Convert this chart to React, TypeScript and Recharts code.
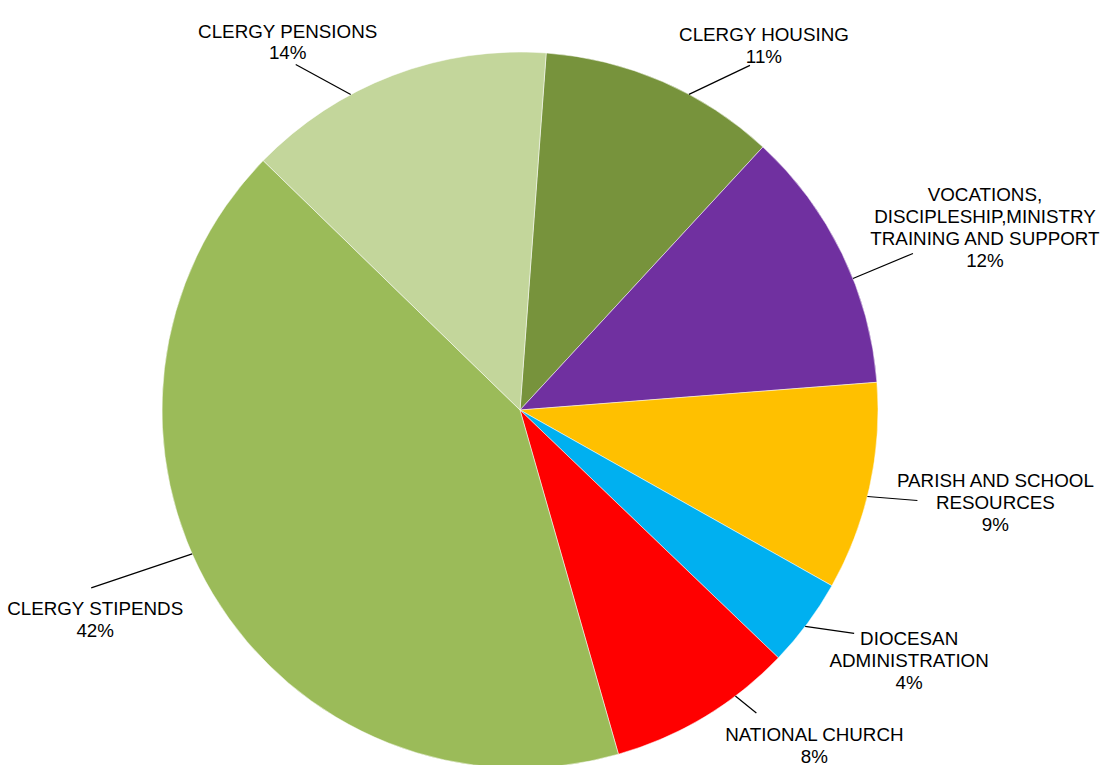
import React from 'react';
import { PieChart, Pie, Cell } from 'recharts';

const CATEGORIES = [
  'CLERGY HOUSING',
  'VOCATIONS,\nDISCIPLESHIP,MINISTRY\nTRAINING AND SUPPORT',
  'PARISH AND SCHOOL\nRESOURCES',
  'DIOCESAN\nADMINISTRATION',
  'NATIONAL CHURCH',
  'CLERGY STIPENDS',
  'CLERGY PENSIONS',
];
const VALUES = [10.7, 11.9, 9.4, 4.0, 8.4, 41.7, 13.9];
const COLORS = ['#77933C', '#7030A0', '#FFC000', '#00B0F0', '#FF0000', '#9BBB59', '#C3D69B'];

// label placement (Excel labels were dragged by hand): anchor angle shift (deg, clockwise),
// leader end offset from anchor, text offset from leader end
const LABEL_LAYOUT = [
  { shift: 4.7, lx: 61, ly: -29, tx: 14, ty: -24 },
  { shift: 4.3, lx: 60, ly: -25, tx: 72, ty: -52 },
  { shift: 1.5, lx: 50, ly: 4, tx: 78, ty: -13 },
  { shift: 0.6, lx: 49, ly: 7, tx: 55, ty: 12 },
  { shift: -5.9, lx: 21, ly: 17, tx: 58, ty: 28 },
  { shift: 7.2, lx: -101, ly: 34, tx: 4, ty: 27 },
  { shift: -7.4, lx: -55, ly: -30, tx: -8, ty: -27 },
];

const data = CATEGORIES.map((name, i) => ({ name, value: VALUES[i] }));

const RADIAN = Math.PI / 180;

const renderLabel = (props: any) => {
  const { cx, cy, midAngle, outerRadius, percent, index, name } = props;
  const lay = LABEL_LAYOUT[index];
  const ang = midAngle - lay.shift;
  const sx = cx + outerRadius * Math.cos(-ang * RADIAN);
  const sy = cy + outerRadius * Math.sin(-ang * RADIAN);
  const ex = sx + lay.lx;
  const ey = sy + lay.ly;
  const tx = ex + lay.tx;
  const ty = ey + lay.ty;
  const lines = [...String(name).split('\n'), `${Math.round(percent * 100)}%`];
  return (
    <g>
      <line x1={sx} y1={sy} x2={ex} y2={ey} stroke="#000" strokeWidth={1.2} />
      <text
        x={tx}
        y={ty}
        textAnchor="middle"
        fill="#000"
        fontFamily="'Liberation Sans', Arial, sans-serif"
        fontSize={18.8}
      >
        {lines.map((l, i) => (
          <tspan key={i} x={tx} y={ty + i * 21.7}>
            {l}
          </tspan>
        ))}
      </text>
    </g>
  );
};

export default function App() {
  return (
    <div style={{ position: 'absolute', left: 0, top: 0, width: 1105, height: 765, background: '#fff' }}>
      <PieChart width={1105} height={765} margin={{ top: 0, right: 0, bottom: 0, left: 0 }}>
        <Pie
          data={data}
          dataKey="value"
          nameKey="name"
          cx={520}
          cy={410}
          outerRadius={358}
          startAngle={85.8}
          endAngle={-274.2}
          stroke="#fff"
          strokeWidth={0.5}
          label={renderLabel}
          labelLine={false}
          isAnimationActive={false}
        >
          {data.map((d, i) => (
            <Cell key={d.name} fill={COLORS[i]} />
          ))}
        </Pie>
      </PieChart>
    </div>
  );
}
